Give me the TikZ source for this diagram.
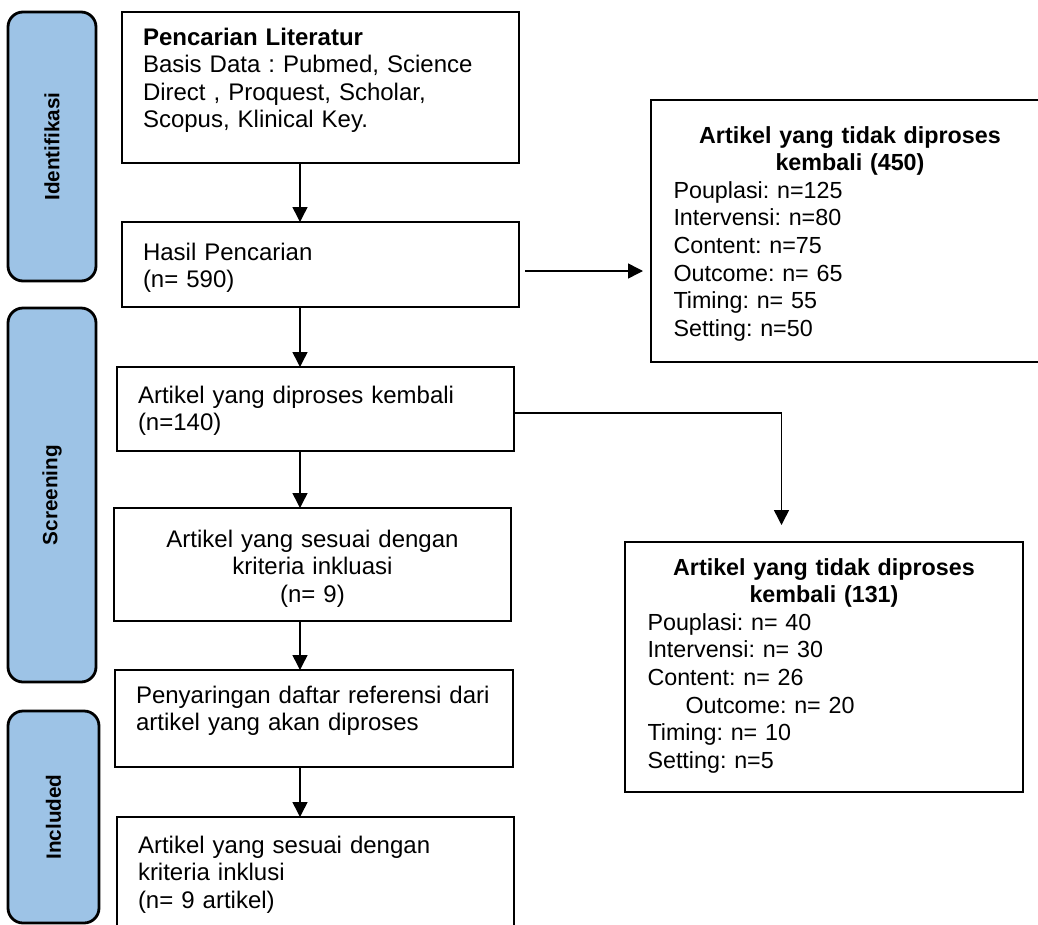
\documentclass[tikz,border=0pt]{standalone}
\usepackage{fontspec}
\setmainfont{Liberation Sans}
\frenchspacing
\usetikzlibrary{arrows.meta, positioning, calc}
\definecolor{cbiru}{HTML}{9DC3E6}
\tikzset{
  every picture/.style={x=1pt, y=-1pt},
  kotak/.style={draw, line width=2.8pt, inner xsep=21pt, inner ysep=0pt, outer sep=0pt, anchor=north west, align=left, font=\fontsize{24}{27.6}\selectfont},
  hasil/.style={kotak, inner xsep=22.5pt, font=\fontsize{23.3}{27.6}\selectfont},
  fase/.style={draw, line width=2.8pt, fill=cbiru, rounded corners=15pt, inner sep=0pt, outer sep=0pt, font=\bfseries\fontsize{20.7}{24}\selectfont},
  panah/.style={-{Triangle[length=15pt, width=15pt]}, line width=1.5pt},
}

\begin{document}
\begin{tikzpicture}
  \useasboundingbox (0,0) rectangle (1038,924);
  \clip (0,0) rectangle (1038,924);

  % ---- fase (kiri)
  \node[fase, minimum width=88pt, minimum height=269pt] (idn) at (52,146.5) {\rotatebox{90}{Identifikasi}};
  \node[fase, minimum width=88pt, minimum height=374pt] (scr) at (52,495) {\rotatebox{90}{Screening}};
  \node[fase, minimum width=91pt, minimum height=212pt] (inc) at (53.5,817) {\rotatebox{90}{Included}};

  % ---- alur utama
  \node[kotak, text width=355pt, text height=33pt, text depth=118pt] (cari) at (122,12)
    {\textbf{Pencarian Literatur}\\Basis Data : Pubmed, Science\\Direct , Proquest, Scholar,\\Scopus, Klinical Key.};
  \node[kotak, text width=355pt, text height=38pt, text depth=47pt] (temu) at (122,222)
    {Hasil Pencarian\\(n= 590)};
  \node[kotak, text width=355pt, text height=36pt, text depth=48pt] (proses) at (117,367)
    {Artikel yang diproses kembali\\(n=140)};
  \node[kotak, align=center, text width=355pt, text height=39pt, text depth=74pt] (sesuai) at (114,508)
    {Artikel yang sesuai dengan\\kriteria inkluasi\\(n= 9)};
  \node[kotak, text width=356pt, text height=33pt, text depth=64pt] (saring) at (115,670)
    {Penyaringan daftar referensi dari\\artikel yang akan diproses};
  \node[kotak, text width=355pt, text height=36pt, text depth=123pt] (akhir) at (117,817)
    {Artikel yang sesuai dengan\\kriteria inklusi\\(n= 9 artikel)};

  % ---- artikel yang dikeluarkan
  \node[hasil, text width=353pt, text height=43pt, text depth=219pt] (tidak1) at (651,100)
    {{\centering\bfseries Artikel yang tidak diproses\\kembali (450)\par}
     Pouplasi: n=125\\Intervensi: n=80\\Content: n=75\\Outcome: n= 65\\Timing: n= 55\\Setting: n=50};
  \node[hasil, text width=353pt, text height=33pt, text depth=217pt] (tidak2) at (625,542)
    {{\centering\bfseries Artikel yang tidak diproses\\kembali (131)\par}
     Pouplasi: n= 40\\Intervensi: n= 30\\Content: n= 26\\\hspace*{38pt}Outcome: n= 20\\Timing: n= 10\\Setting: n=5};

  \coordinate (spine) at (300,0);

  \draw[panah] (cari.south -| spine) -- (temu.north -| spine);
  \draw[panah] (temu.south -| spine) -- (proses.north -| spine);
  \draw[panah] (proses.south -| spine) -- (sesuai.north -| spine);
  \draw[panah] (sesuai.south -| spine) -- (saring.north -| spine);
  \draw[panah] (saring.south -| spine) -- (akhir.north -| spine);
  \draw[panah, shorten <=6pt, shorten >=8pt] ([yshift=-6.5pt]temu.east) -- ([yshift=-6.5pt]temu.east -| tidak1.west);
  \draw[panah, shorten >=17pt] ([yshift=-4pt]proses.east) -| ([xshift=-42.5pt]tidak2.north);
\end{tikzpicture}
\end{document}
